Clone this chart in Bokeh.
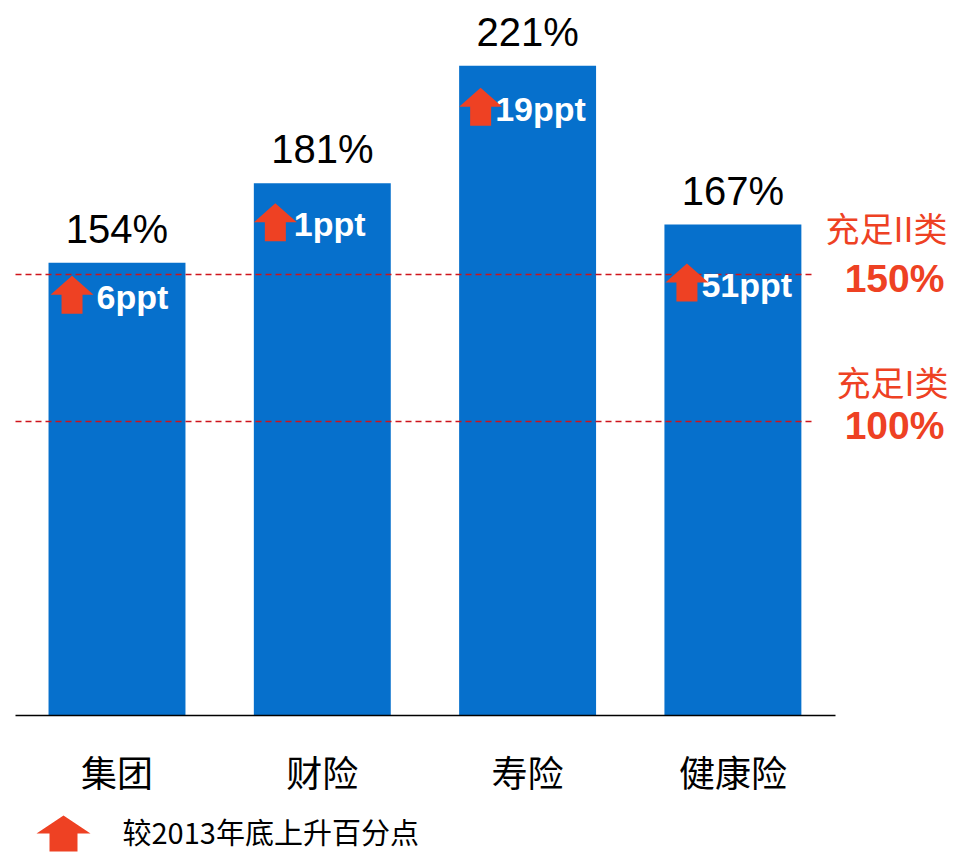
from bokeh.plotting import figure
from bokeh.models import Range1d
from bokeh.core.properties import value
from bokeh.embed import file_html
from bokeh.resources import INLINE

# ---- data ----
categories = ["集团", "财险", "寿险", "健康险"]
ratios = [154, 181, 221, 167]                 # solvency ratio, %
ratio_labels = ["154%", "181%", "221%", "167%"]
changes = ["6ppt", "1ppt", "19ppt", "51ppt"]  # change vs end of 2013
thresholds = [150, 100]
threshold_names = ["充足II类", "充足I类"]
threshold_labels = ["150%", "100%"]
legend_text = "较2013年底上升百分点"

# ---- layout ----
W, H = 954, 855
PX_PER_CAT = 205.3
PX_PER_PCT = 2.94
BASE_Y = 715
X0 = -116.5 / PX_PER_CAT
X1 = X0 + W / PX_PER_CAT
Y1 = BASE_Y / PX_PER_PCT
Y0 = Y1 - H / PX_PER_PCT

def dx(px):
    return px / PX_PER_CAT

def dy(px):
    return px / PX_PER_PCT

def page_x(px):
    return X0 + px / PX_PER_CAT

def page_y(py):
    return Y1 - py / PX_PER_PCT

BAR_W = 0.667
BLUE = "#0670cc"
RED = "#ee4123"
DASH_RED = "#d0141a"
ARROW_DROP_PX = [13, 20, 22, 39]
ARROW_LEFT_PX = [2, 0, 0, 1]
TEXT_LEFT_PX = [46, 40, 36, 36]
NAME_RAISE_PX = [47, 40]

p = figure(width=W, height=H, output_backend="svg", toolbar_location=None,
           x_range=Range1d(X0, X1), y_range=Range1d(Y0, Y1),
           x_axis_location=None, y_axis_location=None, min_border=0)
p.grid.visible = False
p.outline_line_color = None
p.background_fill_color = "white"
p.border_fill_color = "white"

xs = list(range(len(categories)))

# bars
p.vbar(x=xs, top=ratios, bottom=0, width=BAR_W, color=BLUE, line_color=None)

# threshold dashed lines
for t in thresholds:
    p.segment(x0=page_x(15), y0=t, x1=page_x(815), y1=t,
              line_color=DASH_RED, line_width=1.5, line_dash="6 4")

# baseline axis
p.segment(x0=page_x(15), y0=0, x1=page_x(835), y1=0, line_color="black", line_width=1.5)

# value labels above bars
p.text(x=xs, y=[r + dy(12) for r in ratios], text=ratio_labels,
       text_align="center", text_baseline="bottom",
       text_font=value("Liberation Sans"), text_font_size="40px", text_color="black")

def arrow_poly(cx, top, w, h, head_h, shaft_w):
    xs_ = [cx, cx + dx(w / 2), cx + dx(shaft_w / 2), cx + dx(shaft_w / 2),
           cx - dx(shaft_w / 2), cx - dx(shaft_w / 2), cx - dx(w / 2)]
    ys_ = [top, top - dy(head_h), top - dy(head_h), top - dy(h),
           top - dy(h), top - dy(head_h), top - dy(head_h)]
    return xs_, ys_

AW, AH, AHH, ASW = 43, 38, 19, 21
axs, ays = [], []
tx, ty = [], []
for i, r in enumerate(ratios):
    left = i - BAR_W / 2 + dx(ARROW_LEFT_PX[i])
    top = r - dy(ARROW_DROP_PX[i])
    a, b = arrow_poly(left + dx(AW / 2), top, AW, AH, AHH, ASW)
    axs.append(a)
    ays.append(b)
    tx.append(left + dx(TEXT_LEFT_PX[i]))
    ty.append(top - dy(21))

p.text(x=tx, y=ty, text=changes, text_align="left", text_baseline="middle",
       text_font=value("Liberation Sans"), text_font_style="bold",
       text_font_size="34px", text_color="white")
p.patches(xs=axs, ys=ays, color=RED, line_color=None)

# category labels
p.text(x=xs, y=[page_y(770)] * len(xs), text=categories,
       text_align="center", text_baseline="middle",
       text_font=value("Noto Sans CJK SC"), text_font_size="36px", text_color="black")

# threshold labels
lab_x = page_x(894)
p.text(x=[lab_x] * 2, y=[t - dy(4) for t in thresholds], text=threshold_labels,
       text_align="center", text_baseline="middle",
       text_font=value("Liberation Sans"), text_font_style="bold",
       text_font_size="39px", text_color=RED)
p.text(x=[page_x(886), page_x(892)],
       y=[t + dy(r) for t, r in zip(thresholds, NAME_RAISE_PX)], text=threshold_names,
       text_align="center", text_baseline="middle",
       text_font=value("Noto Sans CJK SC"), text_font_size="34px", text_color=RED)

# legend
lx, ly = arrow_poly(page_x(63), page_y(815), 54, 36, 18, 28)
p.patch(x=lx, y=ly, color=RED, line_color=None)
p.text(x=[page_x(122)], y=[page_y(830)], text=[legend_text],
       text_align="left", text_baseline="middle",
       text_font=value("Noto Sans CJK SC"), text_font_size="29px", text_color="black")

open("out.html", "w").write(file_html(p, INLINE))
